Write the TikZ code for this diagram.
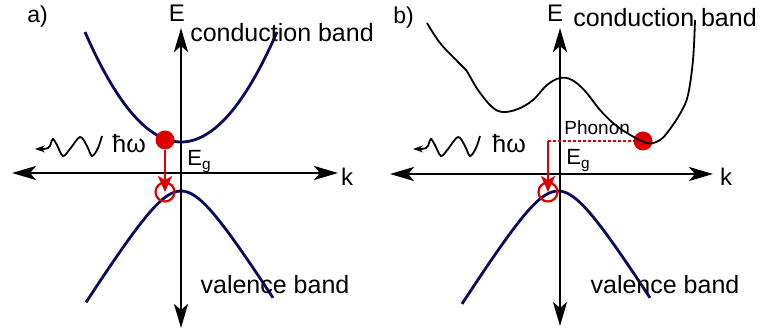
\documentclass[tikz,border=0pt]{standalone}
\usepackage{fontspec}
\setmainfont{Liberation Sans}
\usetikzlibrary{arrows.meta}
\definecolor{bandnavy}{HTML}{0A0A5E}
\definecolor{markred}{HTML}{DD0000}

\begin{document}
\begin{tikzpicture}[x=0.5pt, y=-0.5pt, >=Stealth,
  every node/.style={font=\fontsize{12.5}{15}\selectfont, inner sep=0pt},
  axis/.style={line width=1.4pt, <->, >={Stealth[length=12pt,width=7pt,inset=3pt]}},
  band/.style={line width=1.4pt, bandnavy},
  cband/.style={line width=0.9pt, black},
  electron/.style={circle, fill=markred, minimum size=9.5pt},
  hole/.style={circle, draw=markred, line width=1.1pt, minimum size=9.5pt},
  transition/.style={markred, line width=1.1pt, ->, >={Stealth[length=8pt,width=7pt,inset=2pt]}},
  photon/.style={line width=0.9pt, <-, >={Stealth[length=5pt,width=3.5pt]}},
  axlabel/.style={font=\fontsize{12}{14}\selectfont},
  gaplabel/.style={anchor=base west, font=\fontsize{11}{13}\selectfont}]
  \useasboundingbox (0,0) rectangle (760,336);

  % a) direct gap
  \coordinate (axl) at (12,173);
  \coordinate (axr) at (338,173);
  \coordinate (ayt) at (181,28);
  \coordinate (ayb) at (181,328);
  \draw[band] plot[domain=85:277, samples=60, smooth] (\x, {142-110*((\x-181)/96)^2});
  \draw[band] plot[domain=86:273, samples=60, smooth] (\x, {191+48*(sqrt(1+((\x-181)/30)^2)-1)});
  \draw[axis] (axl) -- (axr);
  \draw[axis] (ayb) -- (ayt);
  \node[axlabel] (Ea) at (177,13) {E};
  \node[axlabel] (ka) at (347,177) {k};
  \node[anchor=base west, font=\fontsize{11.5}{14}\selectfont] (pa) at (27,23) {a)};
  \node[anchor=base] (cba) at (282,42) {conduction band};
  \node[anchor=base] (vba) at (275,293) {valence band};
  \node[electron] (ea) at (165,140) {};
  \node[hole] (ha) at (165,192) {};
  \draw[transition] (ea) -- (ha.center);
  \node[gaplabel] (ga) at (187,166) {E\textsubscript{g}};
  \draw[photon] plot[smooth, tension=0.55] coordinates {(35,149) (48,148) (51,143) (53,139) (57,145) (63,156) (70,149) (80,137) (87,146) (92,156) (98,148) (102,136)};
  \node[anchor=base west] (wa) at (112,153) {ħω};

  % b) indirect gap
  \coordinate (bxl) at (390,174);
  \coordinate (bxr) at (713,174);
  \coordinate (byt) at (560,28);
  \coordinate (byb) at (560,326);
  \draw[band] plot[domain=462:650, samples=60, smooth] (\x, {191+48*(sqrt(1+((\x-558)/30)^2)-1)});
  \draw[axis] (bxl) -- (bxr);
  \draw[axis] (byb) -- (byt);
  \node[axlabel] (Eb) at (555,13) {E};
  \node[axlabel] (kb) at (726,177) {k};
  \node[anchor=base west, font=\fontsize{11.5}{14}\selectfont] (pb) at (393,24) {b)};
  \node[anchor=base] (cbb) at (665,27) {conduction band};
  \node[anchor=base] (vbb) at (665,293) {valence band};
  \node[electron] (eb) at (643,141) {};
  \node[hole] (hb) at (548,192) {};
  \coordinate (phb) at (548,141);
  \draw[markred, line width=1.2pt, dash pattern=on 1.5pt off 1pt] (phb) -- (eb);
  \draw[transition] (phb) -- (hb.center);
  \draw[cband] plot[smooth, tension=0.6] coordinates {(427,23) (440,43) (458,62) (466,70) (478,90) (492,107) (503,112) (518,109) (533,100) (547,85) (560,78) (572,80) (585,91) (600,110) (613,123) (627,133) (647,143) (660,140) (670,129) (681,112) (688,95) (693,60) (695,20)};
  \node[gaplabel] (gb) at (566,165) {E\textsubscript{g}};
  \draw[photon, shift={(378,0)}] plot[smooth, tension=0.55] coordinates {(35,149) (48,148) (51,143) (53,139) (57,145) (63,156) (70,149) (80,137) (87,146) (92,156) (98,148) (102,136)};
  \node[anchor=base west] (wb) at (492,153) {ħω};
  \node[anchor=base west, font=\fontsize{9.5}{11}\selectfont] (phn) at (564,135) {Phonon};
\end{tikzpicture}
\end{document}
